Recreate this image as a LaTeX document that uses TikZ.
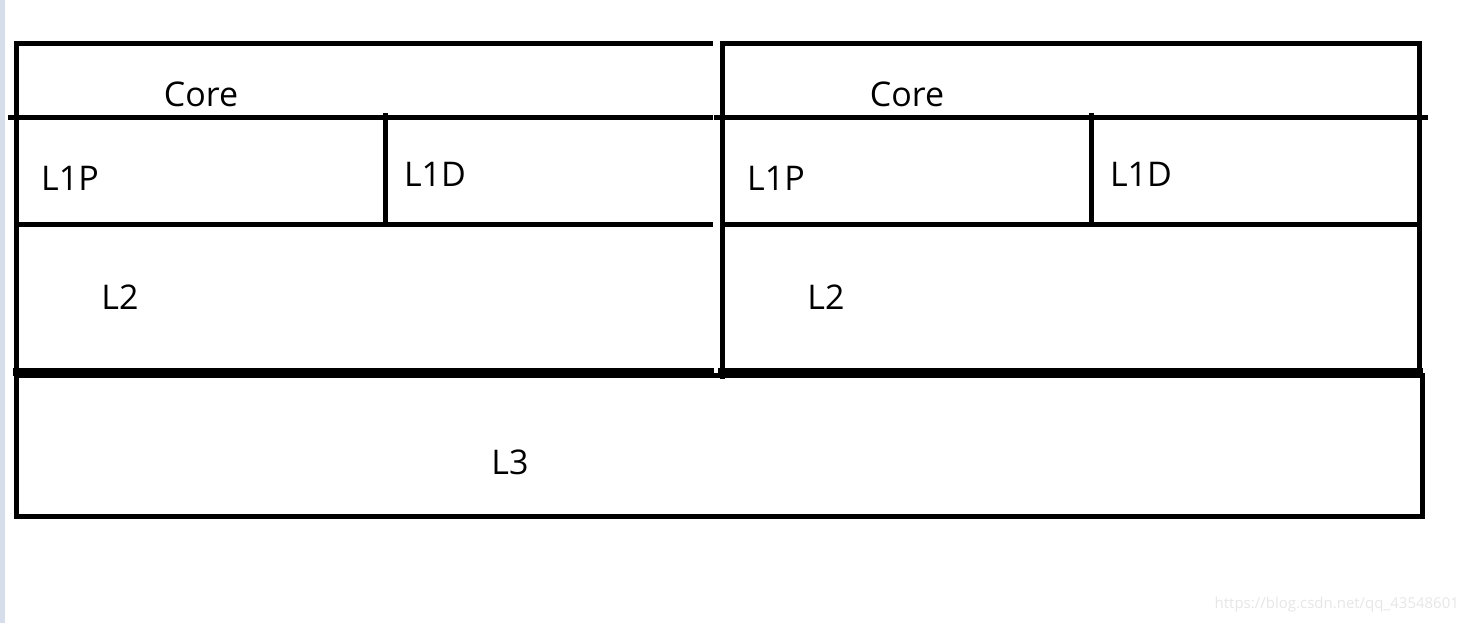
\documentclass[tikz,border=0pt]{standalone}
\usepackage{fontspec}
\setmainfont{Open Sans}
\usepackage{tikz}
\definecolor{strip}{HTML}{D6DEEC}
\definecolor{mark}{HTML}{E6E6E6}

\begin{document}
\begin{tikzpicture}[x=0.5pt,y=-0.5pt,
  ln/.style={line width=2.5pt,line cap=rect},
  lt/.style={ln,line width=3.8pt},
  lb/.style={font=\fontsize{17}{20}\selectfont},
  wm/.style={font=\fontsize{7.5}{9}\selectfont,text=mark}]
\useasboundingbox (0,0) rectangle (1472,623);
\fill[strip] (0,0) rectangle (5,623);
% left block
\draw[ln] (710,43) -- (16.5,43) -- (16.5,516);
\draw[ln] (10,117.5) -- (710,117.5);
\draw[ln] (16.5,224.5) -- (710,224.5);
\draw[ln] (385.5,115) -- (385.5,224.5);
\draw[lt] (16.5,372) -- (710,372);
% right block
\draw[ln] (722,376) -- (722,43) -- (1419,43) -- (1419,372);
\draw[ln] (716,117.5) -- (1425,117.5);
\draw[ln] (722,224.5) -- (1419,224.5);
\draw[ln] (1091.5,115) -- (1091.5,224.5);
\draw[lt] (722,372) -- (1419,372);
% bottom block
\draw[ln] (16.5,375) rectangle (1422,516);
\node[lb] (core1) at (201,94) {Core};
\node[lb] (l1p1) at (70,178) {L1P};
\node[lb] (l1d1) at (435,174) {L1D};
\node[lb] (l2a) at (120,297) {L2};
\node[lb] (core2) at (907,94) {Core};
\node[lb] (l1p2) at (776,178) {L1P};
\node[lb] (l1d2) at (1141,174) {L1D};
\node[lb] (l2b) at (826,297) {L2};
\node[lb] (l3) at (510,462) {L3};
\node[wm,anchor=east] (url) at (1466,605) {https://blog.csdn.net/qq\_43548601};
\end{tikzpicture}
\end{document}
